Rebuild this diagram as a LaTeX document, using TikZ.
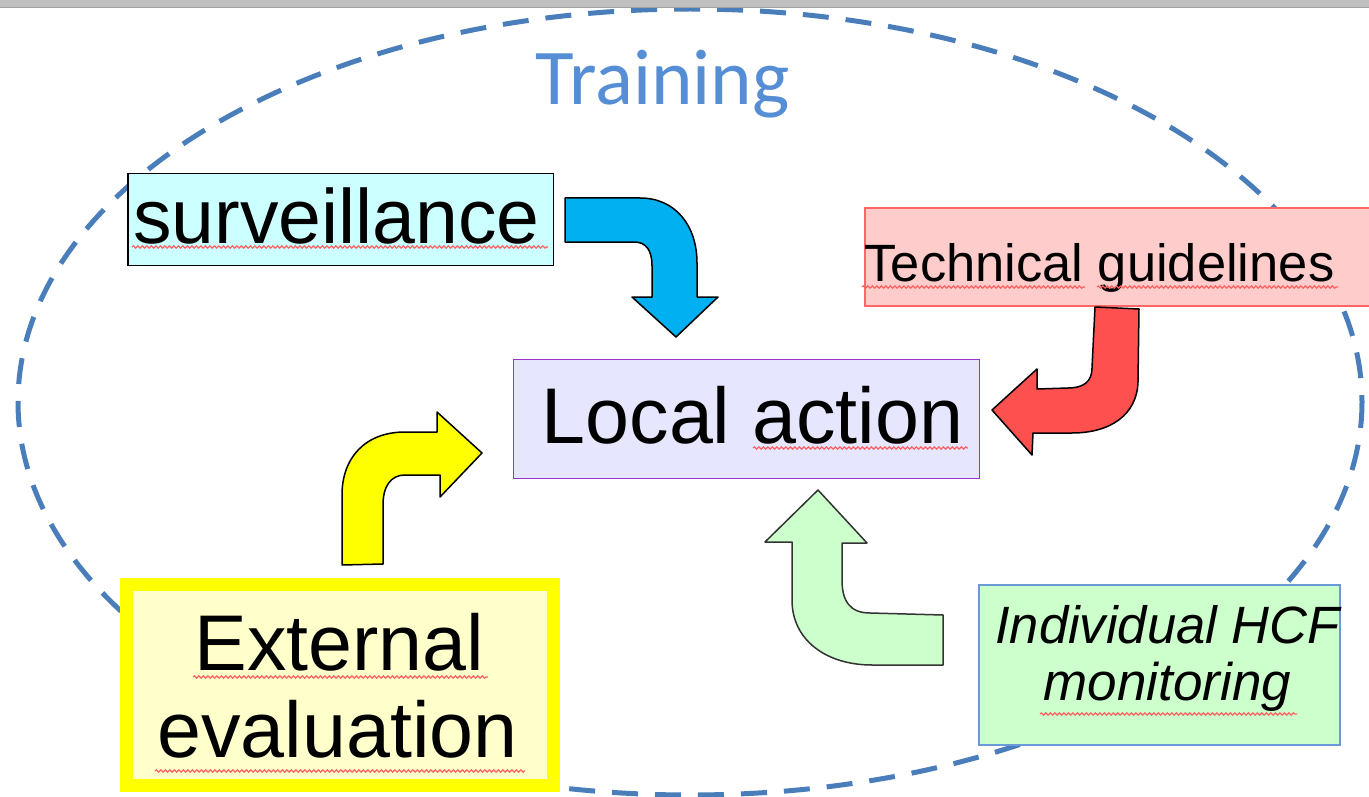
\documentclass[tikz,border=0pt]{standalone}
\usepackage{fontspec}
\setmainfont{Liberation Sans}
\newfontfamily\calibri{Carlito}
\usetikzlibrary{decorations.pathmorphing}
\definecolor{ellblue}{HTML}{4A7EBB}
\definecolor{trainblue}{HTML}{558ED5}
\definecolor{survfill}{HTML}{CCFFFF}
\definecolor{localfill}{HTML}{E6E6FF}
\definecolor{localdraw}{HTML}{9933CC}
\definecolor{techfill}{HTML}{FFCCCC}
\definecolor{techdraw}{HTML}{FF6666}
\definecolor{extfill}{HTML}{FFFFCC}
\definecolor{extdraw}{HTML}{FFFF00}
\definecolor{hcffill}{HTML}{CCFFCC}
\definecolor{hcfdraw}{HTML}{6A9BD8}
\definecolor{arrblue}{HTML}{00B0F0}
\definecolor{arrred}{HTML}{FF5050}
\definecolor{arryellow}{HTML}{FFFF00}
\definecolor{arrgreen}{HTML}{CCFFCC}
\definecolor{squigred}{HTML}{FF6060}
\definecolor{bargray}{HTML}{C0C0C0}
\definecolor{barline}{HTML}{A0A0A0}
\begin{document}
\begin{tikzpicture}[x=1pt,y=-1pt,
  boxnode/.style={rectangle, inner sep=0pt, outer sep=0pt},
  txt/.style={anchor=base, inner sep=0pt, outer sep=0pt, text=black},
  arrowshape/.style={draw=black, line width=1.5pt, line join=round},
  squig/.style={draw=squigred, line width=1.2pt, decorate,
    decoration={snake, segment length=4.5pt, amplitude=1.1pt}}]
\useasboundingbox (0,0) rectangle (1369,797);
\clip (0,0) rectangle (1369,797);
\fill[white] (0,0) rectangle (1369,797);

% Training ellipse
\draw[ellblue, line width=5pt, dash pattern=on 26pt off 17pt]
  (690,402) ellipse [x radius=672, y radius=393];

% top bar
\fill[bargray] (0,0) rectangle (1369,7);
\draw[barline, line width=1pt] (0,7.5) -- (1369,7.5);

% boxes
\node[boxnode, draw=black, line width=1.5pt, fill=survfill,
  minimum width=425.5pt, minimum height=91.5pt] (survbox) at (340.5,219.5) {};
\node[boxnode, draw=localdraw, line width=1.3pt, fill=localfill,
  minimum width=466pt, minimum height=119pt] (localbox) at (746.5,419) {};
\node[boxnode, draw=techdraw, line width=1.3pt, fill=techfill,
  minimum width=535pt, minimum height=98pt] (techbox) at (1132.5,257) {};
\node[boxnode, draw=extdraw, line width=13pt, fill=extfill,
  minimum width=427pt, minimum height=201pt] (extbox) at (340,685) {};
\node[boxnode, draw=hcfdraw, line width=1.3pt, fill=hcffill,
  minimum width=361pt, minimum height=160pt] (hcfbox) at (1159.5,665) {};

% texts
\node[txt, text=trainblue, font={\calibri\fontsize{79}{82}\selectfont}] (training) at (662.5,105) {Training};
\node[txt, font={\fontsize{77}{80}\selectfont}] (surv) at (336.5,243) {surveillance};
\node[txt, font={\fontsize{79}{82}\selectfont}] (local) at (752.5,443) {Local action};
\node[txt, font={\fontsize{52.5}{55}\selectfont}] (tech) at (1099.5,281) {Technical guidelines};
\node[txt, font={\fontsize{79}{82}\selectfont}] (ext1) at (339.5,670) {External};
\node[txt, font={\fontsize{79}{82}\selectfont}] (ext2) at (337.5,757) {evaluation};
\node[txt, font={\itshape\fontsize{52.5}{55}\selectfont}] (hcf1) at (1167.5,643) {Individual HCF};
\node[txt, font={\itshape\fontsize{53}{55}\selectfont}] (hcf2) at (1167.5,700) {monitoring};

% spell-check squiggles
\draw[squig] (132,247) -- (548,247);
\draw[squig] (753,448) -- (968,448);
\draw[squig] (862,287) -- (1085,287);
\draw[squig] (1097,287) -- (1338,287);
\draw[squig] (193,677) -- (488,677);
\draw[squig] (155,771) -- (525,771);
\draw[squig] (1040,714) -- (1297,714);

% blue arrow: surveillance -> local action
\draw[arrowshape, fill=arrblue] (565,198) -- (640,198)
  .. controls (675,198) and (697,225) .. (697,263) -- (697,297) -- (718,297)
  -- (676,337) -- (632,297) -- (652,297) -- (652,266)
  .. controls (652,250) and (646,242) .. (634,242) -- (565,242) -- cycle;

% red arrow: technical guidelines -> local action
\draw[arrowshape, fill=arrred] (1095,307) -- (1139,309) -- (1138,382)
  .. controls (1137,415) and (1110,433) .. (1072,433) -- (1033,433)
  -- (1032,455) -- (992,410) -- (1037,369) -- (1037,389) -- (1068,388)
  .. controls (1083,388) and (1092,382) .. (1092,368) -- cycle;

% yellow arrow: external evaluation -> local action
\draw[arrowshape, fill=arryellow] (342,565) -- (342,495)
  .. controls (342,458) and (365,432) .. (405,432) -- (437,432) -- (437,412)
  -- (482,453) -- (440,497) -- (440,475) -- (405,475)
  .. controls (391,475) and (383,486) .. (383,505) -- (383,564) -- cycle;

% green arrow: HCF monitoring -> local action
\draw[arrowshape, draw=black!80, fill=arrgreen] (818,490) -- (867,543) -- (842,543)
  -- (842,580) .. controls (842,601) and (850,613) .. (870,613) -- (943,615)
  -- (943,665) -- (872,665) .. controls (826,665) and (792,640) .. (792,600)
  -- (792,542) -- (765,542) -- cycle;
\end{tikzpicture}
\end{document}
